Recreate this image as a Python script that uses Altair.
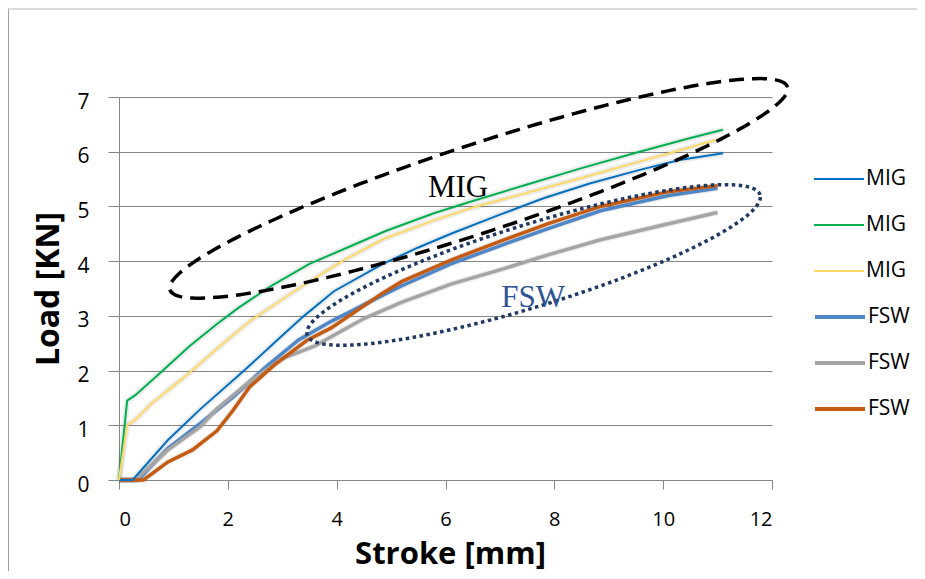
import altair as alt
import pandas as pd
import numpy as np

# ---- data ----
mig_blue_x = [0, 0.25, 0.9, 1.5, 2.3, 2.9, 3.4, 3.95, 4.85, 5.5, 6.1, 7.0, 7.8, 8.65, 9.5, 10.3, 11.1]
mig_blue_y = [0, 0, 0.73, 1.3, 2.0, 2.55, 3.0, 3.45, 3.95, 4.25, 4.5, 4.85, 5.15, 5.42, 5.65, 5.85, 5.97]

mig_green_x = [0, 0.15, 0.3, 0.75, 1.3, 1.8, 2.2, 2.8, 3.5, 4.2, 4.9, 5.8, 6.5, 7.5, 8.5, 9.5, 10.5, 11.1]
mig_green_y = [0, 1.45, 1.55, 1.95, 2.45, 2.85, 3.15, 3.55, 3.95, 4.25, 4.55, 4.88, 5.1, 5.4, 5.7, 5.98, 6.25, 6.4]

mig_yellow_x = [0, 0.15, 0.3, 0.6, 1.2, 1.8, 2.4, 3.3, 4.1, 4.85, 5.8, 6.5, 7.5, 8.5, 9.5, 10.5, 11.1]
mig_yellow_y = [0, 1.0, 1.1, 1.4, 1.88, 2.4, 2.9, 3.5, 4.0, 4.4, 4.75, 4.98, 5.25, 5.52, 5.8, 6.08, 6.25]

fsw_blue_x = [0, 0.35, 0.9, 1.5, 2.1, 2.7, 3.3, 3.9, 4.85, 5.2, 6.1, 7.0, 7.9, 8.85, 10.1, 11.0]
fsw_blue_y = [0, 0, 0.58, 1.04, 1.52, 2.07, 2.56, 2.9, 3.38, 3.55, 3.95, 4.28, 4.6, 4.92, 5.2, 5.33]

fsw_gray_x = [0, 0.3, 0.9, 1.5, 1.8, 2.4, 3.0, 3.6, 3.9, 4.5, 5.2, 6.1, 7.0, 7.9, 8.85, 10.0, 11.0]
fsw_gray_y = [0, 0, 0.55, 0.98, 1.3, 1.8, 2.22, 2.45, 2.62, 2.95, 3.25, 3.58, 3.84, 4.12, 4.39, 4.66, 4.89]

fsw_orange_x = [0, 0.45, 0.9, 1.35, 1.8, 2.1, 2.4, 2.85, 3.45, 3.9, 4.85, 5.2, 6.1, 7.0, 7.9, 8.85, 10.1, 11.0]
fsw_orange_y = [0, 0, 0.33, 0.55, 0.9, 1.28, 1.7, 2.1, 2.55, 2.78, 3.42, 3.63, 4.02, 4.36, 4.69, 5.0, 5.27, 5.38]

mig_ids = ["MIG1", "MIG2", "MIG3"]
mig_colors = ["#0070C0", "#00B050", "#FFD966"]
fsw_ids = ["FSW1", "FSW2", "FSW3"]
fsw_colors = ["#4F86C6", "#A5A5A5", "#C55A11"]

x_ticks = [0, 2, 4, 6, 8, 10, 12]
y_ticks = [0, 1, 2, 3, 4, 5, 6, 7]

# annotation ellipses: centre (data units), semi-axes (px), rotation (deg)
mig_ell = (6.61, 5.33, 325, 44, 18.2)
fsw_ell = (7.62, 3.93, 237, 41, 17.2)
mig_label = ("MIG", 6.23, 5.17)
fsw_label = ("FSW", 7.61, 3.16)

# ---- layout ----
W, H = 653, 383
XMAX, YMAX = 12, 7

series = [
    ("MIG1", mig_blue_x, mig_blue_y),
    ("MIG2", mig_green_x, mig_green_y),
    ("MIG3", mig_yellow_x, mig_yellow_y),
    ("FSW1", fsw_blue_x, fsw_blue_y),
    ("FSW2", fsw_gray_x, fsw_gray_y),
    ("FSW3", fsw_orange_x, fsw_orange_y),
]
rows = []
for sid, xs_, ys_ in series:
    for i, (xv, yv) in enumerate(zip(xs_, ys_)):
        rows.append({"sid": sid, "x": xv, "y": yv, "i": i})
df = pd.DataFrame(rows)
df_mig = df[df["sid"].str.startswith("MIG")]
df_fsw = df[df["sid"].str.startswith("FSW")]


def ellipse(p, n=240):
    cx, cy, a, b, ang = p
    t = np.linspace(0, 2 * np.pi, n)
    th = np.radians(ang)
    u, v = a * np.cos(t), b * np.sin(t)
    px = u * np.cos(th) - v * np.sin(th)
    py = u * np.sin(th) + v * np.cos(th)
    return pd.DataFrame({"x": cx + px / (W / XMAX), "y": cy + py / (H / YMAX), "i": np.arange(n)})


xs = alt.Scale(domain=[0, XMAX], nice=False, zero=False)
ys = alt.Scale(domain=[0, YMAX], nice=False, zero=False)

x_axis = alt.Axis(values=x_ticks, format="d", grid=False, domainColor="#868686", tickColor="#868686",
                  tickSize=9, labelFont="Open Sans", labelFontSize=20, labelColor="#000",
                  labelPadding=20, title="Stroke [mm]", titleFont="Open Sans", titleFontSize=31,
                  titleFontWeight="bold", titleColor="#000", titleX=331, titleY=83,
                  titleBaseline="alphabetic", titleAlign="center")
y_axis = alt.Axis(values=y_ticks, format="d", grid=True, gridColor="#868686", domainColor="#868686",
                  tickColor="#868686", tickSize=11, labelFont="Open Sans", labelFontSize=21,
                  labelColor="#000", labelPadding=19, labelOffset=5,
                  title="Load [KN]", titleFont="Open Sans", titleFontSize=32,
                  titleFontWeight="bold", titleColor="#000", titleAngle=270, titleX=-61,
                  titleY=H / 2, titleBaseline="alphabetic", titleAlign="center")


def leg(y0, sw):
    return alt.Legend(title=None, orient="none", legendX=694, legendY=y0,
                      symbolType="stroke", symbolSize=2500, symbolStrokeWidth=sw,
                      labelFont="Open Sans", labelFontSize=21, labelColor="#000",
                      labelExpr="substring(datum.label, 0, 3)",
                      clipHeight=46, rowPadding=0, padding=0, labelOffset=1)


shadow = alt.Chart(df).mark_line(color="#000", opacity=0.08, strokeWidth=6).encode(
    x=alt.X("x:Q", scale=xs, axis=x_axis),
    y=alt.Y("y:Q", scale=ys, axis=y_axis),
    detail="sid:N", order="i:Q")

fsw_lines = alt.Chart(df_fsw).mark_line(strokeWidth=3.5).encode(
    x=alt.X("x:Q", scale=xs), y=alt.Y("y:Q", scale=ys),
    stroke=alt.Stroke("sid:N", scale=alt.Scale(domain=fsw_ids, range=fsw_colors), legend=leg(197, 4)),
    order="i:Q")
mig_lines = alt.Chart(df_mig).mark_line(strokeWidth=2).encode(
    x=alt.X("x:Q", scale=xs), y=alt.Y("y:Q", scale=ys),
    color=alt.Color("sid:N", scale=alt.Scale(domain=mig_ids, range=mig_colors), legend=leg(59, 2)),
    order="i:Q")

ell1 = alt.Chart(ellipse(mig_ell)).mark_line(color="#000", strokeWidth=3.5, strokeDash=[15, 8],
                                             clip=False).encode(
    x=alt.X("x:Q", scale=xs), y=alt.Y("y:Q", scale=ys), order="i:Q")
ell2 = alt.Chart(ellipse(fsw_ell)).mark_line(color="#203864", strokeWidth=3.5, strokeDash=[3.5, 3.5],
                                             clip=False).encode(
    x=alt.X("x:Q", scale=xs), y=alt.Y("y:Q", scale=ys), order="i:Q")

lab_df = pd.DataFrame({"t": [mig_label[0], fsw_label[0]], "x": [mig_label[1], fsw_label[1]],
                       "y": [mig_label[2], fsw_label[2]], "c": ["#000000", "#2F5496"]})
labels = alt.Chart(lab_df).mark_text(font="Liberation Serif", fontSize=31, align="center",
                                     baseline="alphabetic").encode(
    x=alt.X("x:Q", scale=xs), y=alt.Y("y:Q", scale=ys), text="t:N",
    color=alt.Color("c:N", scale=None))

frame_df = pd.DataFrame({"a": [0]})
frame_left = alt.Chart(frame_df).mark_rule(color="#a0a0a0", strokeWidth=1, clip=False).encode(
    x=alt.value(-110.5), y=alt.value(-89), y2=alt.value(474))
frame_top = alt.Chart(frame_df).mark_rule(color="#d0d0d0", strokeWidth=1.5, clip=False).encode(
    x=alt.value(-111), x2=alt.value(798), y=alt.value(-88))

chart = alt.layer(shadow, fsw_lines, mig_lines, ell1, ell2, labels, frame_left, frame_top).resolve_scale(
    color="independent", stroke="independent"
).properties(
    width=W, height=H,
    padding={"left": 111, "top": 89, "right": 145, "bottom": 91},
    autosize=alt.AutoSizeParams(type="none"),
    background="white",
).configure_view(stroke=None)

chart.save("out.html", embed_options={"renderer": "svg", "actions": False})
